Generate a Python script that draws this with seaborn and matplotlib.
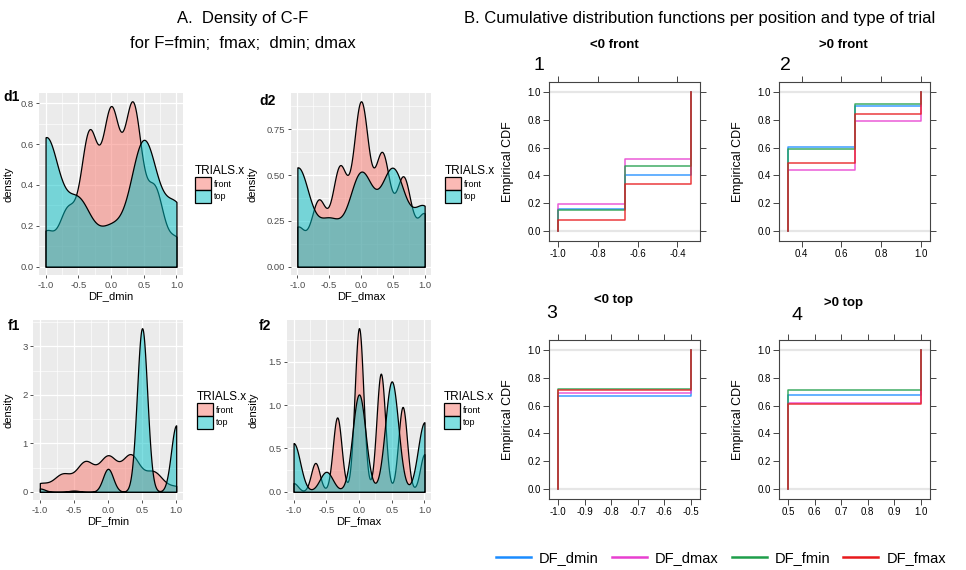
import numpy as np
import pandas as pd
import matplotlib
matplotlib.use('Agg')
import matplotlib.pyplot as plt
from matplotlib.ticker import MultipleLocator, FormatStrFormatter
from matplotlib.patches import Patch
from matplotlib.lines import Line2D
from matplotlib.colors import to_rgba
import seaborn as sns

# possible values of C-F per position
front_vals = [-1, -2/3, -1/3, 0, 1/3, 2/3, 1]
top_vals = [-1, -0.5, 0, 0.5, 1]

dmin_front = [5, 8, 19, 22, 23, 11, 4]
dmax_front = [6, 10, 15, 25, 17, 13.5, 8]
fmin_front = [5.5, 11.5, 19.5, 23, 24, 13, 3.5]
fmax_front = [10, 33, 85, 187, 135, 97, 43]

dmin_top = [32, 16, 9, 31, 15]
dmax_top = [27, 12, 25, 26, 16]
fmin_top = [1.3, 0.5, 9, 64, 26]
fmax_top = [56, 23, 112, 127, 80]

variables = ['DF_dmin', 'DF_dmax', 'DF_fmin', 'DF_fmax']
trials = ['front', 'top']

# kernel bandwidth per variable / trial type
bandwidth = {'DF_dmin': {'front': 0.13, 'top': 0.20},
             'DF_dmax': {'front': 0.12, 'top': 0.19},
             'DF_fmin': {'front': 0.13, 'top': 0.075},
             'DF_fmax': {'front': 0.067, 'top': 0.10}}

rows = []
for var, fc, tc in zip(variables,
                       [dmin_front, dmax_front, fmin_front, fmax_front],
                       [dmin_top, dmax_top, fmin_top, fmax_top]):
    rows += [(var, 'front', v, w) for v, w in zip(front_vals, fc)]
    rows += [(var, 'top', v, w) for v, w in zip(top_vals, tc)]
df = pd.DataFrame(rows, columns=['variable', 'TRIALS.x', 'value', 'weight'])

trial_colors = {'front': '#F8766D', 'top': '#00BFC4'}
line_colors = {'DF_dmin': '#1a8cff', 'DF_dmax': '#e83fd0',
               'DF_fmin': '#1e9e4a', 'DF_fmax': '#e8191c'}

plt.rcParams['font.family'] = ['Liberation Sans', 'DejaVu Sans']

W, H = 966, 570
fig = plt.figure(figsize=(W / 100, H / 100), dpi=100)


def box(l, t, r, b):
    return [l / W, 1 - b / H, (r - l) / W, (b - t) / H]


def fx(px):
    return px / W


def fy(py):
    return 1 - py / H


def bw_for(s):
    return lambda k: float(s / np.sqrt(np.cov(k.dataset, aweights=k.weights)))


# ---------- A. densities (ggplot look) ----------
dens_panels = [
    ('DF_dmin', 'd1', box(39, 93, 183, 275), 0.2, '%.1f', (3, 97), -0.174, 1.08),
    ('DF_dmax', 'd2', box(291, 93, 431, 275), 0.25, '%.2f', (259, 101), -0.236, 1.10),
    ('DF_fmin', 'f1', box(33, 320, 183, 500), 1.0, '%.0f', (8, 326), -0.127, 1.09),
    ('DF_fmax', 'f2', box(287, 320, 431, 500), 0.5, '%.1f', (259, 326), -0.20, 1.09),
]

for var, tag, rect, ystep, yfmt, tagpos, ylab_x, leg_x in dens_panels:
    ax = fig.add_axes(rect)
    for trial in trials:
        sub = df[(df['variable'] == var) & (df['TRIALS.x'] == trial)]
        sns.kdeplot(data=sub, x='value', weights='weight', ax=ax, fill=True,
                    color=trial_colors[trial], alpha=0.5, edgecolor='black',
                    linewidth=0.9, cut=0, gridsize=400,
                    bw_method=bw_for(bandwidth[var][trial]))
    ax.use_sticky_edges = False
    ax.margins(0.05)
    ax.autoscale_view()
    ax.set_facecolor('#EBEBEB')
    for sp in ax.spines.values():
        sp.set_visible(False)
    ax.xaxis.set_major_locator(MultipleLocator(0.5))
    ax.xaxis.set_minor_locator(MultipleLocator(0.25))
    ax.xaxis.set_major_formatter(FormatStrFormatter('%.1f'))
    ax.yaxis.set_major_locator(MultipleLocator(ystep))
    ax.yaxis.set_minor_locator(MultipleLocator(ystep / 2))
    ax.yaxis.set_major_formatter(FormatStrFormatter(yfmt))
    ax.grid(True, which='major', color='white', lw=0.9)
    ax.grid(True, which='minor', color='white', lw=0.45)
    ax.set_axisbelow(True)
    ax.tick_params(which='major', length=2.5, width=0.6, color='#333333',
                   labelsize=6.8, labelcolor='#4D4D4D', pad=1.5)
    ax.tick_params(which='minor', length=0)
    ax.set_xlabel(var, fontsize=8, labelpad=1)
    ax.set_ylabel('density', fontsize=8)
    ax.yaxis.set_label_coords(ylab_x, 0.5)
    fig.text(fx(tagpos[0]), fy(tagpos[1]), tag, ha='left', va='center',
             fontsize=10, fontweight='bold')
    handles = [Patch(facecolor=to_rgba(trial_colors[t], 0.5), edgecolor='black',
                     linewidth=0.9, label=t) for t in trials]
    leg = ax.legend(handles=handles, title='TRIALS.x', loc='center left',
                    bbox_to_anchor=(leg_x, 0.5), frameon=False, fontsize=6.5,
                    title_fontsize=8.5, handlelength=1.8, handleheight=1.8,
                    labelspacing=0.0, handletextpad=0.35, borderpad=0,
                    borderaxespad=0)
    leg._legend_box.align = 'left'

fig.text(fx(243), fy(18), 'A.  Density of C-F', ha='center', va='center', fontsize=12)
fig.text(fx(243), fy(43), 'for F=fmin;  fmax;  dmin; dmax', ha='center', va='center',
         fontsize=12)

# ---------- B. empirical CDFs (lattice look) ----------
ecdf_panels = [
    ('<0 front', 'front', -1, '1', box(549, 82, 700, 241), 0.2, (614, 45), (539, 66)),
    ('>0 front', 'front', 1, '2', box(779, 82, 930, 241), 0.2, (843, 45), (785, 65)),
    ('<0 top', 'top', -1, '3', box(549, 340, 700, 499), 0.1, (613, 300), (552, 314)),
    ('>0 top', 'top', 1, '4', box(779, 340, 930, 499), 0.1, (843, 303), (797, 315)),
]

for title, trial, sign, num, rect, xstep, tpos, npos in ecdf_panels:
    ax = fig.add_axes(rect)
    sub = df[(df['TRIALS.x'] == trial) & (np.sign(df['value']) == sign)]
    ax.axhline(0, color='#e6e6e6', lw=1.6, zorder=0)
    ax.axhline(1, color='#e6e6e6', lw=1.6, zorder=0)
    # seaborn draws the hue levels in reverse, so reverse the order to keep fmax on top
    sns.ecdfplot(data=sub, x='value', weights='weight', hue='variable',
                 hue_order=variables[::-1], palette=line_colors, legend=False, ax=ax,
                 linewidth=1.1, alpha=0.85)
    ax.use_sticky_edges = False
    ax.margins(0.07)
    ax.autoscale_view()
    ax.xaxis.set_major_locator(MultipleLocator(xstep))
    ax.xaxis.set_major_formatter(FormatStrFormatter('%.1f'))
    ax.yaxis.set_major_locator(MultipleLocator(0.2))
    ax.yaxis.set_major_formatter(FormatStrFormatter('%.1f'))
    for sp in ax.spines.values():
        sp.set_color('#444444')
        sp.set_linewidth(0.8)
    ax.tick_params(direction='out', length=4, width=0.7, color='#444444',
                   top=True, right=True, labeltop=False, labelright=False,
                   labelsize=7, pad=2)
    ax.set_xlabel('')
    ax.set_ylabel('Empirical CDF', fontsize=9)
    ax.yaxis.set_label_coords(-0.235, 0.5)
    fig.text(fx(tpos[0]), fy(tpos[1]), title, ha='center', va='center',
             fontsize=9.5, fontweight='bold')
    fig.text(fx(npos[0]), fy(npos[1]), num, ha='center', va='center', fontsize=14)

fig.text(fx(700), fy(18), 'B. Cumulative distribution functions per position and type of trial',
         ha='center', va='center', fontsize=12)

leg_handles = [Line2D([0], [0], color=line_colors[v], lw=1.8, label=v) for v in variables]
fig.legend(handles=leg_handles, loc='center', bbox_to_anchor=(fx(721), fy(558)),
           ncol=4, frameon=False, fontsize=10.5, handlelength=2.4,
           handletextpad=0.55, columnspacing=0.9)

fig.savefig('out.png', dpi=100, facecolor='white')
